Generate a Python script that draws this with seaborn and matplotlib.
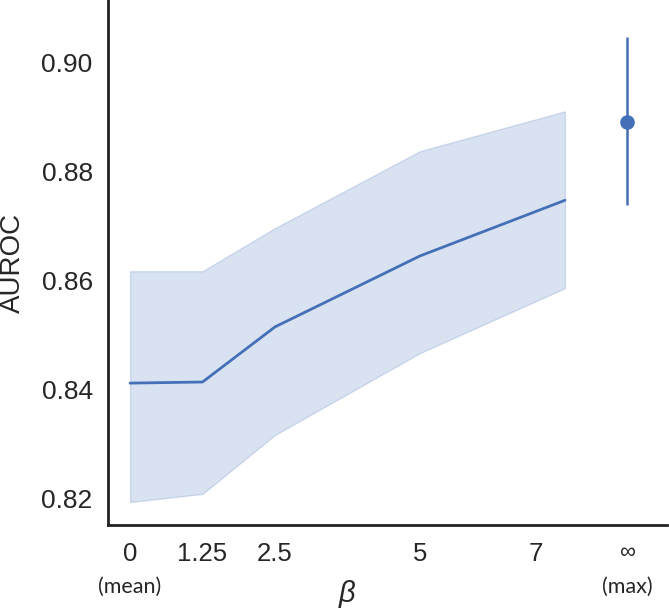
import matplotlib
matplotlib.use("Agg")
import matplotlib.pyplot as plt
import seaborn as sns
import pandas as pd

# ---- data ----
beta = [0, 1.25, 2.5, 5, 7.5]
auroc_mean = [0.8412, 0.8414, 0.8515, 0.8645, 0.8747]
auroc_lo = [0.8194, 0.8209, 0.8317, 0.8467, 0.8586]
auroc_hi = [0.8617, 0.8617, 0.8696, 0.8837, 0.8910]

max_x = 8.57
max_mean = 0.8890
max_lo = 0.8738
max_hi = 0.9046

tick_pos = [0, 1.25, 2.5, 5, 7, 8.57]
tick_labels = ["0", "1.25", "2.5", "5", "7", "∞"]
sub_pos = [0, 8.57]
sub_labels = ["(mean)", "(max)"]
y_ticks = [0.82, 0.84, 0.86, 0.88, 0.90]

# ---- style ----
sns.set_theme(style="white")
plt.rcParams["font.family"] = ["Liberation Sans", "DejaVu Sans"]

color = "#4470B8"
text_color = "#262626"

fig = plt.figure(figsize=(6.69, 6.11), dpi=100)
ax = fig.add_axes([108 / 669, 86 / 611, 559 / 669, 525 / 611])

df = pd.DataFrame({"beta": beta, "auroc": auroc_mean, "lo": auroc_lo, "hi": auroc_hi})
sns.lineplot(data=df, x="beta", y="auroc", ax=ax, color=color, lw=2.0)
ax.fill_between(df["beta"], df["lo"], df["hi"], color=color, alpha=0.2, lw=1)

ax.errorbar([max_x], [max_mean],
            yerr=[[max_mean - max_lo], [max_hi - max_mean]],
            fmt="o", color=color, ms=9.5, elinewidth=1.8, capsize=0)

ax.set_xlim(-0.38, 9.26)
ax.set_ylim(0.8152, 0.9114)

ax.set_xticks(tick_pos)
ax.set_xticklabels(tick_labels, fontsize=18.5)
ax.get_xticklabels()[-1].set_fontsize(16)
ax.set_yticks(y_ticks)
ax.set_yticklabels([f"{v:.2f}" for v in y_ticks], fontsize=19)
ax.tick_params(axis="y", length=0, pad=11, colors=text_color)
ax.tick_params(axis="x", length=0, pad=12, colors=text_color)

trans = ax.get_xaxis_transform()
for xp, lab in zip(sub_pos, sub_labels):
    ax.text(xp, -0.118, lab, transform=trans, ha="center", va="center",
            fontsize=15.5, color=text_color, family=["Lato", "DejaVu Sans"])

ax.set_xlabel("β", fontsize=21, style="italic", color=text_color)
ax.xaxis.set_label_coords(0.4275, -0.104)
ax.set_ylabel("AUROC", fontsize=20, color=text_color, va="center")
ax.yaxis.set_label_coords(-0.170, 0.499)

sns.despine(ax=ax)
for s in ["left", "bottom"]:
    ax.spines[s].set_color("#222222")
    ax.spines[s].set_linewidth(2.0)

fig.savefig("out.png", dpi=100)
